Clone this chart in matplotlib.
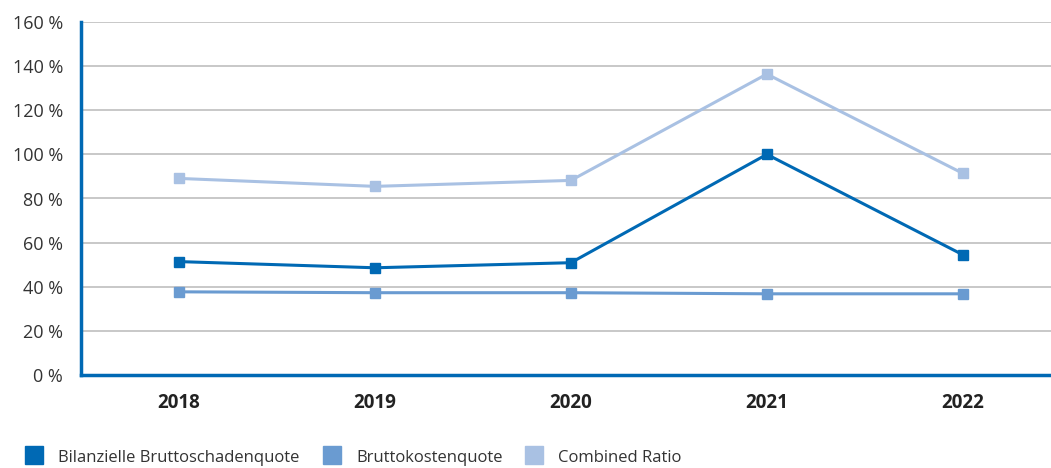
import matplotlib.pyplot as plt
from matplotlib.patches import Rectangle

# data
years = ["2018", "2019", "2020", "2021", "2022"]
schaden = [51.4, 48.6, 50.9, 100.0, 54.5]
kosten = [37.7, 37.3, 37.3, 36.8, 36.8]
combined = [89.1, 85.5, 88.2, 136.4, 91.4]
names = ["Bilanzielle Bruttoschadenquote", "Bruttokostenquote", "Combined Ratio"]
colors = ["#0069b4", "#6a9bd1", "#a9c1e3"]

plt.rcParams['font.family'] = ['Open Sans', 'DejaVu Sans']

fig = plt.figure(figsize=(10.51, 4.68), dpi=100)
ax = fig.add_axes([81/1051, 1-375/468, 1-81/1051, (375-22)/468])

x = range(len(years))
for vals, c in zip([combined, kosten, schaden], [colors[2], colors[1], colors[0]]):
    ax.plot(x, vals, color=c, lw=2.2, marker='s', markersize=7, zorder=3)

ax.set_xlim(-0.5, 4.45)
ax.set_ylim(0, 160)
ax.set_yticks(range(0, 161, 20))
ax.set_yticklabels([f"{v} %" for v in range(0, 161, 20)], fontsize=13, color="#333333")
ax.set_xticks(list(x))
ax.set_xticklabels(years, fontsize=13.5, fontweight='bold', color="#222222")
ax.tick_params(axis='y', length=0, pad=13)
ax.tick_params(axis='x', length=0, pad=13)
ax.grid(axis='y', color='#bfbfbf', lw=1.2)
ax.set_axisbelow(True)
for s in ['top', 'right']:
    ax.spines[s].set_visible(False)
for s in ['left', 'bottom']:
    ax.spines[s].set_color('#0069b4')
    ax.spines[s].set_linewidth(2.5)

# legend
leg_x = [25, 323, 525]
for lx, name, c in zip(leg_x, names, colors):
    fig.add_artist(Rectangle((lx/1051, 1-464/468), 18/1051, 18/468, transform=fig.transFigure, color=c))
    fig.text((lx+33)/1051, 1-458/468, name, fontsize=12, color="#333333", va='center')

fig.savefig('out.png', dpi=100)
